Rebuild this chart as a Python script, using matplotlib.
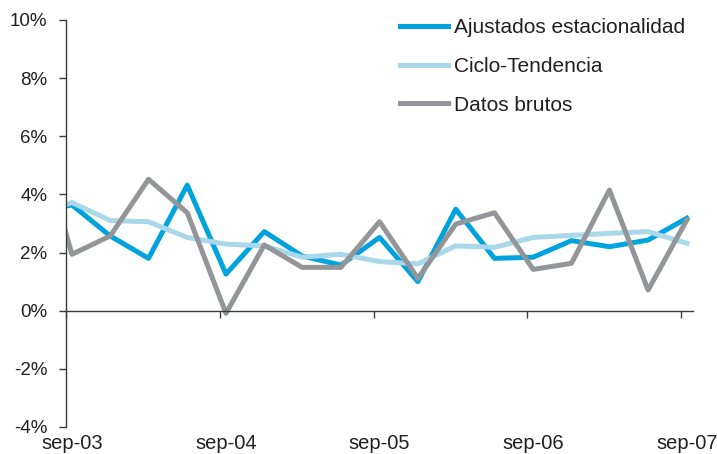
import numpy as np
import matplotlib.pyplot as plt
import matplotlib.dates as mdates

plt.rcParams['font.family'] = ['Liberation Sans', 'DejaVu Sans']

# fechas trimestrales (jun-03 queda recortado por el eje)
fechas = np.array(['2003-06-15', '2003-09-15', '2003-12-15', '2004-03-15', '2004-06-15',
                   '2004-09-15', '2004-12-15', '2005-03-15', '2005-06-15',
                   '2005-09-15', '2005-12-15', '2006-03-15', '2006-06-15',
                   '2006-09-15', '2006-12-15', '2007-03-15', '2007-06-15',
                   '2007-09-15'], dtype='datetime64[D]')

ajustados = [3.38, 3.64, 2.57, 1.80, 4.32, 1.26, 2.72, 1.88, 1.57,
             2.52, 1.00, 3.49, 1.80, 1.84, 2.41, 2.20, 2.43, 3.18]
ciclo = [3.26, 3.72, 3.10, 3.06, 2.52, 2.29, 2.23, 1.84, 1.94,
         1.69, 1.61, 2.23, 2.18, 2.52, 2.59, 2.66, 2.72, 2.32]
brutos = [6.6, 1.94, 2.57, 4.52, 3.37, -0.09, 2.26, 1.49, 1.49,
          3.06, 1.11, 2.98, 3.37, 1.42, 1.63, 4.15, 0.71, 3.12]

etiquetas_x = ['sep-03', 'sep-04', 'sep-05', 'sep-06', 'sep-07']
ticks_x = np.array(['2003-09-01', '2004-09-01', '2005-09-01', '2006-09-01', '2007-09-01'],
                   dtype='datetime64[D]')
pos_etiquetas = ticks_x + np.timedelta64(14, 'D')
ticks_y = [-4, -2, 0, 2, 4, 6, 8, 10]

color_txt = '#231f20'
color_eje = '#3a3a3a'

fig = plt.figure(figsize=(7.17, 4.54), dpi=100)
ax = fig.add_axes([0.0921, 0.0595, 0.874, 0.8965])

ax.plot(fechas, ajustados, color='#00a3dd', lw=3.6, label='Ajustados estacionalidad')
ax.plot(fechas, ciclo, color='#a8d8ea', lw=3.6, label='Ciclo-Tendencia')
ax.plot(fechas, brutos, color='#939598', lw=3.6, label='Datos brutos')

ax.set_xlim(np.datetime64('2003-09-01'), np.datetime64('2007-09-29'))
ax.set_ylim(-4, 10)

ax.spines['top'].set_visible(False)
ax.spines['right'].set_visible(False)
ax.spines['bottom'].set_position(('data', 0))
for s in ['left', 'bottom']:
    ax.spines[s].set_color(color_eje)
    ax.spines[s].set_linewidth(1.0)

ax.set_yticks(ticks_y)
ax.set_yticklabels([f'{v}%' for v in ticks_y])
ax.tick_params(axis='y', direction='out', length=4.8, width=1.0, color=color_eje,
               pad=8.5, labelsize=13.5, labelcolor=color_txt)

ax.set_xticks(mdates.date2num(ticks_x))
ax.set_xticklabels([])
ax.set_xticks(mdates.date2num(pos_etiquetas), minor=True)
ax.set_xticklabels(etiquetas_x, minor=True)
ax.tick_params(axis='x', which='major', direction='out', length=4.8, width=1.0, color=color_eje)
ax.tick_params(axis='x', which='minor', length=0, pad=89, labelsize=14.5, labelcolor=color_txt)

leg = ax.legend(loc='upper left', bbox_to_anchor=(400 / 717, 1 - 18 / 454),
                bbox_transform=fig.transFigure, frameon=False, fontsize=15,
                borderpad=0, handlelength=2.3, handletextpad=0.29, labelspacing=0.95,
                borderaxespad=0)
for t in leg.get_texts():
    t.set_color(color_txt)

fig.savefig('out.png', dpi=100)
